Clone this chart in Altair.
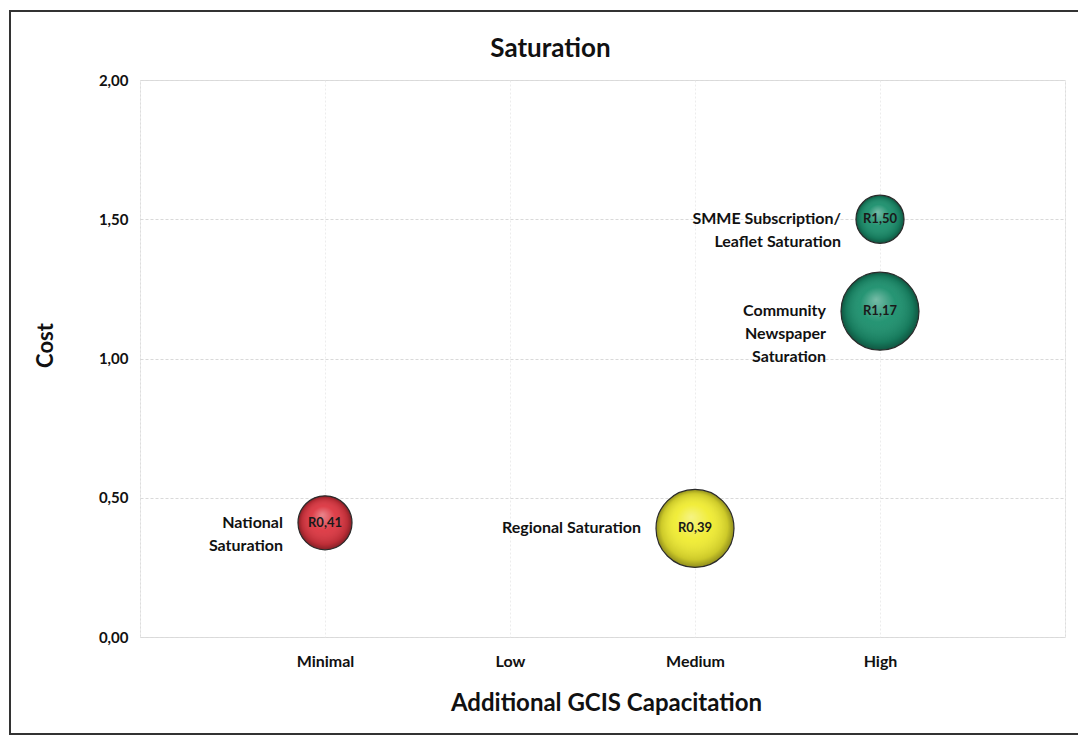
import altair as alt
import pandas as pd

# ---- data ----
levels = ["Minimal", "Low", "Medium", "High"]
names = ["National\nSaturation", "Regional Saturation",
         "SMME Subscription/\nLeaflet Saturation", "Community\nNewspaper\nSaturation"]
capacitation = ["Minimal", "Medium", "High", "High"]
cost = [0.41, 0.39, 1.50, 1.17]
bubble = [48, 100, 38, 100]
value_labels = ["R0,41", "R0,39", "R1,50", "R1,17"]
rating = ["Red", "Yellow", "Green", "Green"]

df = pd.DataFrame({
    "name": names,
    "cap": capacitation,
    "cost": cost,
    "bubble": bubble,
    "vlabel": value_labels,
    "rating": rating,
})

FONT = "Lato"
W, H = 925, 557
MAXAREA = 6084
PX_PER_UNIT = W / 5.0

levels_js = "[" + ",".join("'" + l + "'" for l in levels) + "]"

base = alt.Chart(df).transform_calculate(
    xi=f"indexof({levels_js}, datum.cap) + 1"
).transform_calculate(
    lx=f"datum.xi - (sqrt(datum.bubble / 100 * {MAXAREA}) / 2 + 15) / {PX_PER_UNIT}"
)

label_expr = "['', " + ", ".join("'" + l + "'" for l in levels) + ", ''][datum.value]"

x_enc = alt.X(
    "xi:Q",
    scale=alt.Scale(domain=[0, 5], nice=False, zero=False),
    axis=alt.Axis(
        values=[0, 1, 2, 3, 4, 5],
        labelExpr=label_expr,
        title="Additional GCIS Capacitation",
        titleFont=FONT, titleFontSize=24, titleFontWeight="bold", titleColor="#111",
        titleX=466, titleY=66, titleBaseline="middle", titleAlign="center",
        labelFont=FONT, labelFontSize=16, labelFontWeight="bold", labelColor="#111",
        labelPadding=16, ticks=False, domain=False,
        grid=True, gridColor="#ececec", gridDash=[2, 2], gridWidth=1,
    ),
)
y_enc = alt.Y(
    "cost:Q",
    scale=alt.Scale(domain=[0, 2], nice=False),
    axis=alt.Axis(
        values=[0, 0.5, 1.0, 1.5, 2.0],
        labelExpr="replace(format(datum.value, '.2f'), '.', ',')",
        title="Cost",
        titleFont=FONT, titleFontSize=22, titleFontWeight="bold", titleColor="#111",
        titleX=-95, titleY=265, titleAngle=270, titleAlign="center", titleBaseline="middle",
        labelFont=FONT, labelFontSize=15, labelFontWeight="bold", labelColor="#111",
        labelPadding=12, ticks=False, domain=False,
        grid=True, gridColor="#d9d9d9", gridDash=[3, 2], gridWidth=1,
    ),
)

size_enc = alt.Size("bubble:Q", scale=alt.Scale(domain=[0, 100], range=[0, MAXAREA], zero=True), legend=None)

circles = base.mark_circle(opacity=1).encode(
    x=x_enc, y=y_enc, size=size_enc,
    color=alt.Color("rating:N",
                    scale=alt.Scale(domain=["Red", "Yellow", "Green"],
                                    range=["#dc3540", "#f0ec30", "#1a8f6c"]),
                    legend=None),
)

shade = base.mark_circle(
    opacity=1,
    fill={
        "gradient": "radial",
        "x1": 0.45, "y1": 0.35, "r1": 0,
        "x2": 0.5, "y2": 0.5, "r2": 0.5,
        "stops": [
            {"offset": 0, "color": "rgba(255,255,255,0.40)"},
            {"offset": 0.45, "color": "rgba(255,255,255,0.05)"},
            {"offset": 0.85, "color": "rgba(0,0,0,0.15)"},
            {"offset": 1, "color": "rgba(0,0,0,0.40)"},
        ],
    },
    stroke="#2b2b2b", strokeWidth=1.2,
).encode(x="xi:Q", y="cost:Q", size=size_enc)

values_txt = base.mark_text(font=FONT, fontSize=13, fontWeight="bold", color="#1a1a1a").encode(
    x="xi:Q", y="cost:Q", text="vlabel:N"
)

names_txt = base.mark_text(
    font=FONT, fontSize=16, fontWeight="bold", color="#111",
    align="right", baseline="middle", lineBreak="\n", lineHeight=23,
).encode(x="lx:Q", y="cost:Q", text="name:N")

frame = alt.Chart(alt.Data(values=[{"a": 1}])).mark_rect(
    fill="transparent", stroke="#333333", strokeWidth=2
).encode(x=alt.value(-130), x2=alt.value(1000), y=alt.value(-69), y2=alt.value(654))

chart = alt.layer(frame, circles, shade, values_txt, names_txt).properties(
    width=W, height=H,
    title=alt.TitleParams("Saturation", font=FONT, fontSize=26, fontWeight="bold",
                          color="#111", anchor="middle", dx=-52, offset=-52),
    autosize=alt.AutoSizeParams(type="none"),
    padding={"left": 140, "top": 80, "right": 13, "bottom": 100},
).configure_view(stroke=None).configure(background="white")

chart.save("out.html", embed_options={"renderer": "svg", "actions": False})
